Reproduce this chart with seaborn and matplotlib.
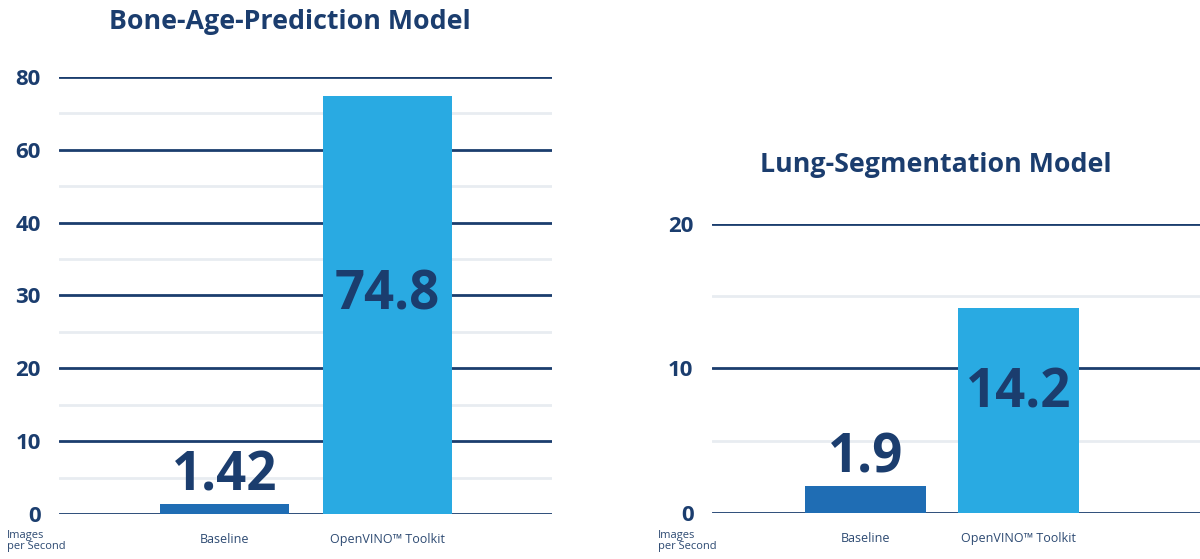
import numpy as np
import pandas as pd
import matplotlib
matplotlib.use("Agg")
import matplotlib.pyplot as plt
import seaborn as sns

sns.set_style("white")
plt.rcParams['font.family'] = ['Open Sans', 'DejaVu Sans']

NAVY = '#1b3d6e'
LIGHT = '#29aae2'
MID = '#1f6db4'
GRID = '#e8ecf1'

categorias = ['Baseline', 'OpenVINO™ Toolkit']
bone_valores = [1.42, 74.8]
lung_valores = [1.9, 14.2]
bone_ticks = [0, 10, 20, 30, 40, 60, 80]
bone_minor = [5, 15, 25, 35, 50, 70]
lung_ticks = [0, 10, 20]
lung_minor = [5, 15]
rotulos_bone = ['1.42', '74.8']
rotulos_lung = ['1.9', '14.2']

# escala do gráfico da esquerda: marcas igualmente espaçadas
pos = np.arange(len(bone_ticks))
def fwd(y):
    return np.interp(y, bone_ticks, pos, left=-1, right=len(pos))
def inv(p):
    return np.interp(p, pos, bone_ticks)


def painel(ax, valores, rotulos, ticks, minor, titulo, xlim, ylim, dentro, title_x, title_y):
    df = pd.DataFrame({'cat': categorias, 'val': valores})
    sns.barplot(data=df, x='cat', y='val', hue='cat', palette=[MID, LIGHT],
                width=0.79, legend=False, ax=ax, zorder=3, saturation=1,
                edgecolor='none', linewidth=0)
    ax.set_xlim(*xlim)
    ax.set_ylim(*ylim)
    ax.set_yticks(ticks)
    ax.set_yticks(minor, minor=True)
    ax.set_yticklabels([str(t) for t in ticks], fontsize=16, fontweight='bold', color=NAVY)
    ax.tick_params(axis='y', which='both', length=0, pad=13)
    ax.tick_params(axis='x', length=0, pad=14, labelsize=9, labelcolor='#2d4a72')
    ax.grid(axis='y', which='major', color=NAVY, linewidth=2.0, zorder=1)
    ax.grid(axis='y', which='minor', color=GRID, linewidth=2.0, zorder=0)
    ax.set_axisbelow(True)
    for s in ax.spines.values():
        s.set_visible(False)
    ax.set_xlabel('')
    ax.set_ylabel('')
    # rótulos de valor
    ax.text(0, valores[0], rotulos[0], ha='center', va='bottom', fontsize=38,
            fontweight='bold', color=NAVY, zorder=4)
    ax.text(1, dentro, rotulos[1], ha='center', va='center', fontsize=38,
            fontweight='bold', color=NAVY, zorder=4)
    ax.set_title(titulo, fontsize=19.3, fontweight='bold', color=NAVY,
                 x=title_x, y=title_y)


fig = plt.figure(figsize=(12, 5.59), dpi=100)
ax1 = fig.add_axes([0.049, 0.0805, 0.411, 0.7818])
ax2 = fig.add_axes([0.593, 0.0823, 0.407, 0.517])

ax1.set_yscale('function', functions=(fwd, inv))
painel(ax1, bone_valores, rotulos_bone, bone_ticks, bone_minor,
       'Bone-Age-Prediction Model', (-1.015, 2.01), (0, 80), 30, 0.468, 1.09)
painel(ax2, lung_valores, rotulos_lung, lung_ticks, lung_minor,
       'Lung-Segmentation Model', (-1.007, 2.19), (0, 20), 8.3, 0.46, 1.15)

for x in (0.006, 0.548):
    fig.text(x, 0.012, 'Images\nper Second', fontsize=8, color='#2d4a72',
             ha='left', va='bottom', linespacing=1.0)

fig.savefig('out.png', dpi=100)
